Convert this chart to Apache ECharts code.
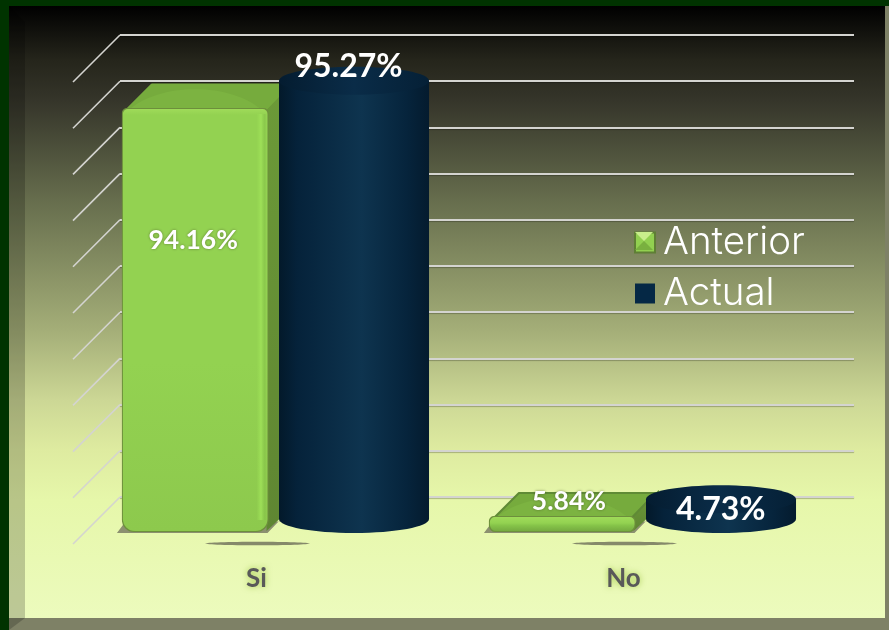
<!DOCTYPE html>
<html><head><meta charset="utf-8">
<style>html,body{margin:0;padding:0;background:#003300}#c{width:889px;height:630px}</style>
<script src="https://cdn.jsdelivr.net/npm/echarts@6/dist/echarts.min.js"></script>
</head><body><div id="c"></div>
<script>
const categories = ['Si', 'No'];
const anterior = [94.16, 5.84];
const actual = [95.27, 4.73];
const wallTicks = [0, 10, 20, 30, 40, 50, 60, 70, 80, 90, 100];
const seriesNames = ['Anterior', 'Actual'];

const FONT = 'Lato';
const chart = echarts.init(document.getElementById('c'));
const lin = (x2, y2, stops) => ({type:'linear', x:0, y:0, x2, y2, colorStops:stops.map(s=>({offset:s[0], color:s[1]}))});

function renderDiagonal(params, api) {
  const p = api.coord([0, api.value(0)]);
  return {type:'group', children:[
    {type:'line', shape:{x1:p[0], y1:p[1], x2:p[0]-47, y2:p[1]+47}, style:{stroke:'#d4d4d0', lineWidth:1.6}}
  ]};
}

function renderShadow(params, api) {
  const p = api.coord([api.value(0), 0]);
  return {type:'ellipse', shape:{cx:p[0]+1, cy:p[1]-0.5, rx:52, ry:1.8}, style:{fill:'#85896a'}};
}

function renderBox(params, api) {
  const idx = api.value(0), val = api.value(1);
  const top = api.coord([idx, val]);
  const base = api.coord([idx, 0]);
  const band = api.size([1, 0])[0];
  const cx = top[0];
  const L = cx - band*0.364, R = cx + band*0.03;
  const yT = top[1], yB = base[1]-13;
  const h = yB - yT;
  const dx = 26, dy = -27;
  const r = Math.min(12, h*0.45);
  const tall = h > 40;
  const labelY = yT + 0.361*h - 20.4;
  const labelX = (L+R)/2 - 2 + 9*(1-h/422);
  const text = val.toFixed(2) + '%';
  return {type:'group', children:[
    // floor shadow
    {type:'polygon', shape:{points:[[L-6,yB+2],[R,yB+2],[R+dx,yB+2+dy],[R+dx,yB-10],[L,yB-6]]}, style:{fill:'#8c9070'}},
    // side
    {type:'polygon', shape:{points:[[R-2,yT],[R+dx-2,yT+dy],[R+dx,yT+dy+3],[R+dx,yB+dy+2],[R-1,yB]]}, style:{fill:lin(0,1,[[0,'#6c9a38'],[1,'#5f8632']])}},
    // top
    {type:'polygon', shape:{points:[[L+4,yT+1],[L+dx+3,yT+dy+3],[R+dx-5,yT+dy+3],[R-3,yT+1]]},
      style:{fill:'#76ab3d', stroke:tall?'#76ab3d':'#5f8a35', lineWidth:tall?3:2, lineJoin:'round'}},
    {type:'bezierCurve', shape:{x1:L+5, y1:yT+2, cpx1:L+35, cpy1:yT-27, cpx2:R-35, cpy2:yT-27, x2:R-5, y2:yT+2}, style:{fill:'#7cb341', stroke:null}},
    // front rim
    {type:'rect', shape:{x:L-1, y:yT-1, width:R-L+2, height:h+2, r:[5,5,r,r]}, style:{fill:'#6d8f3c'}},
    {type:'rect', shape:{x:L, y:yT, width:R-L, height:h, r:[5,5,r,r]},
      style:{fill:lin(0,1,[[0,'#9fdb59'],[Math.min(1,6/h),'#93d251'],[0.6,tall?'#93d251':'#86c449'],[1,tall?'#8dc94d':'#75ab40']])}},
    {type:'rect', shape:{x:R-11, y:yT+5, width:9, height:Math.max(0,h-16)},
      style:{fill:lin(1,0,[[0,'rgba(155,220,85,0)'],[0.5,'rgba(158,224,88,1)'],[1,'rgba(130,190,70,.6)']]), opacity:tall?1:0}},
    {type:'text', x:labelX, y:labelY, style:{text, fill:'#fff', font:`bold 26.5px ${FONT}`, textAlign:'center', textVerticalAlign:'middle', textShadowColor:'rgba(60,70,30,.6)', textShadowBlur:3}}
  ]};
}

function renderCylinder(params, api) {
  const idx = api.value(0), val = api.value(1);
  const top = api.coord([idx, val]);
  const base = api.coord([idx, 0]);
  const band = api.size([1, 0])[0];
  const cx = top[0] + band*0.2657;
  const rx = band*0.2044, ry = 14;
  const yT = top[1]-23, yB = base[1]-25;
  const h = yB - yT;
  const side = lin(1,0,[[0,'#03192a'],[0.12,'#05223a'],[0.55,'#0e344f'],[0.85,'#06243c'],[1,'#041b2e']]);
  const labelY = yT - 0.0574*h + 11.3;
  const text = val.toFixed(2) + '%';
  return {type:'group', children:[
    {type:'ellipse', shape:{cx, cy:yB, rx, ry}, style:{fill:side}},
    {type:'rect', shape:{x:cx-rx, y:yT, width:2*rx, height:h}, style:{fill:side}},
    {type:'ellipse', shape:{cx, cy:yT, rx, ry}, style:{fill:lin(1,0,[[0,'#041c30'],[0.5,'#0a2c48'],[1,'#052036']])}},
    {type:'text', x:cx - 5.5*h/440, y:labelY, style:{text, fill:'#fff', font:`bold 32px ${FONT}`, textAlign:'center', textVerticalAlign:'middle'}}
  ]};
}

const mk = (vals) => vals.map((v,i)=>[i,v]);

chart.setOption({
  animation:false,
  backgroundColor:'#003300',
  graphic:[
    {type:'rect', z:-30, silent:true, shape:{x:9,y:6,width:880,height:624}, style:{fill:'#7e8166'}},
    {type:'rect', z:-29, silent:true, shape:{x:9,y:6,width:876,height:612},
      style:{fill:lin(0,1,[[0,'#000000'],[0.088,'#25251b'],[0.154,'#35352a'],[0.317,'#666d4d'],[0.53,'#a4ae78'],[0.644,'#ccd795'],[0.725,'#deeba0'],[0.807,'#e6f7aa'],[1,'#ecfbbd']])}},
    {type:'polygon', z:-28, silent:true, shape:{points:[[9,6],[25,22],[25,618],[9,630]]}, style:{fill:'rgba(0,0,0,0.2)'}},
    {type:'polygon', z:50, silent:true, shape:{points:[[635,232],[653,232],[644,241]]}, style:{fill:'#c9ee8c'}},
    {type:'polygon', z:50, silent:true, shape:{points:[[635,250],[653,250],[644,241]]}, style:{fill:'#79b03f'}}
  ],
  legend:{
    orient:'vertical', left:634, top:220, padding:0, itemWidth:20, itemHeight:20, itemGap:6,
    icon:'rect', selectedMode:false, data:seriesNames,
    textStyle:{color:'#fff', fontFamily:'Inter', fontWeight:300, fontSize:38.5, lineHeight:42, padding:[3,0,0,3]}
  },
  grid:[
    {left:120, right:35, top:35, bottom:133},
    {left:73, right:82, top:82, bottom:86}
  ],
  xAxis:[
    {gridIndex:0, type:'value', min:0, max:1, show:false},
    {gridIndex:1, type:'category', data:categories, axisLine:{show:false}, axisTick:{show:false},
     axisLabel:{margin:22, color:'#595959', fontFamily:FONT, fontWeight:'bold', fontSize:26, textShadowColor:'#a5cb4e', textShadowBlur:6}}
  ],
  yAxis:[
    {gridIndex:0, type:'value', min:0, max:100, interval:10, axisLine:{show:false}, axisTick:{show:false}, axisLabel:{show:false},
     splitLine:{show:true, lineStyle:{color:'#d4d4d0', width:2, shadowColor:'rgba(0,0,0,.25)', shadowBlur:1, shadowOffsetY:1}}},
    {gridIndex:1, type:'value', min:0, max:100, interval:10, show:false, splitLine:{show:false}}
  ],
  series:[
    {name:'wall', type:'custom', xAxisIndex:0, yAxisIndex:0, clip:false, silent:true, data:wallTicks.map(v=>[v]), encode:{y:0}, renderItem:renderDiagonal},
    {name:'floor', type:'custom', xAxisIndex:1, yAxisIndex:1, clip:false, silent:true, data:categories.map((c,i)=>[i]), encode:{x:0}, renderItem:renderShadow},
    {name:seriesNames[0], type:'custom', xAxisIndex:1, yAxisIndex:1, clip:false, data:mk(anterior), encode:{x:0,y:1}, renderItem:renderBox, itemStyle:{color:'#92d050', borderColor:'#5f7f35', borderWidth:1}},
    {name:seriesNames[1], type:'custom', xAxisIndex:1, yAxisIndex:1, clip:false, data:mk(actual), encode:{x:0,y:1}, renderItem:renderCylinder, itemStyle:{color:'#052845'}}
  ]
});
</script></body></html>
